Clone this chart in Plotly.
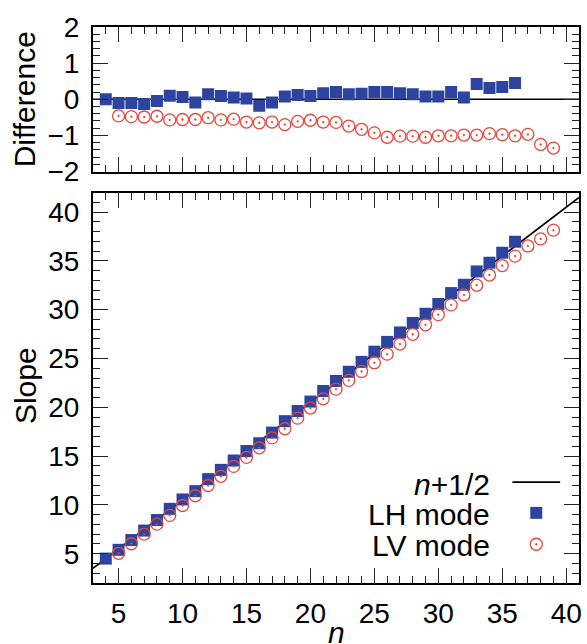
import plotly.graph_objects as go

# ---------------- data ----------------
n_lh = list(range(4, 37))
diff_lh = [0.00, -0.10, -0.10, -0.13, -0.05, 0.10, 0.06, -0.09, 0.14, 0.09,
           0.05, 0.02, -0.18, -0.09, 0.08, 0.12, 0.09, 0.17, 0.20, 0.14,
           0.15, 0.20, 0.20, 0.17, 0.14, 0.08, 0.08, 0.20, 0.05, 0.42,
           0.31, 0.34, 0.45]
slope_lh = [4.50, 5.40, 6.40, 7.37, 8.45, 9.60, 10.56, 11.41, 12.64, 13.59,
            14.55, 15.52, 16.32, 17.41, 18.58, 19.62, 20.59, 21.67, 22.70, 23.64,
            24.65, 25.70, 26.70, 27.67, 28.64, 29.58, 30.58, 31.70, 32.55, 33.92,
            34.81, 35.84, 36.95]

n_lv = list(range(5, 40))
diff_lv = [-0.46, -0.48, -0.49, -0.47, -0.57, -0.56, -0.56, -0.51, -0.57, -0.55,
           -0.63, -0.65, -0.63, -0.70, -0.61, -0.58, -0.63, -0.64, -0.74, -0.83,
           -0.93, -1.05, -1.02, -1.02, -1.05, -1.01, -1.01, -0.99, -0.99, -0.95,
           -0.98, -1.01, -0.97, -1.25, -1.35]
slope_lv = [5.04, 6.02, 7.01, 8.03, 8.93, 9.94, 10.94, 11.99, 12.93, 13.95,
            14.87, 15.85, 16.87, 17.80, 18.89, 19.92, 20.87, 21.86, 22.76, 23.67,
            24.57, 25.45, 26.48, 27.48, 28.45, 29.49, 30.49, 31.51, 32.51, 33.55,
            34.52, 35.49, 36.53, 37.25, 38.15]

ref_n = [3, 41]
ref_slope = [3.5, 41.5]
ref_diff = [0, 0]

x_ticks = [5, 10, 15, 20, 25, 30, 35, 40]
diff_ticks = [-2, -1, 0, 1, 2]
slope_ticks = [5, 10, 15, 20, 25, 30, 35, 40]

legend_labels = ["<i>n</i>+1/2", "LH mode", "LV mode"]

# ---------------- styles ----------------
FONT = "Liberation Sans, Arial, Helvetica, sans-serif"
BLUE = "#2c44a0"
RED = "#e8463c"
TICKFS = 28
LEG_FS = 30
TITLE_FS = 30

W, H = 587, 644
ML, MR, MT, MB = 93, 5, 27, 60.5
PW = W - ML - MR
PH = H - MT - MB

def px_x(p):
    return (p - ML) / PW

def px_y(p):
    return (H - MB - p) / PH

fig = go.Figure()

sq = dict(symbol="square", size=12, color=BLUE, line=dict(width=0))
circ = dict(symbol="circle-open-dot", size=12, color=RED, line=dict(width=1.3, color=RED))

# top: differences
fig.add_trace(go.Scatter(x=ref_n, y=ref_diff, mode="lines", line=dict(color="black", width=1.6),
                         xaxis="x", yaxis="y", showlegend=False, hoverinfo="skip"))
fig.add_trace(go.Scatter(x=n_lh, y=diff_lh, mode="markers", marker=sq, xaxis="x", yaxis="y",
                         showlegend=False))
fig.add_trace(go.Scatter(x=n_lv, y=diff_lv, mode="markers", marker=circ, xaxis="x", yaxis="y",
                         showlegend=False))

# bottom: slopes
fig.add_trace(go.Scatter(x=ref_n, y=ref_slope, mode="lines", line=dict(color="black", width=1.6),
                         xaxis="x2", yaxis="y2", showlegend=False, hoverinfo="skip"))
fig.add_trace(go.Scatter(x=n_lh, y=slope_lh, mode="markers", marker=sq, xaxis="x2", yaxis="y2",
                         showlegend=False))
fig.add_trace(go.Scatter(x=n_lv, y=slope_lv, mode="markers", marker=circ, xaxis="x2", yaxis="y2",
                         showlegend=False))

# custom legend keys (symbols to the right of text) on an invisible full-area axis pair
key_y = [px_y(482.5), px_y(513.3), px_y(544.7)]
key_x = px_x(539)
fig.add_trace(go.Scatter(x=[px_x(515), px_x(563)], y=[key_y[0], key_y[0]], mode="lines",
                         line=dict(color="black", width=1.6), xaxis="x3", yaxis="y3",
                         showlegend=False, hoverinfo="skip", cliponaxis=False))
fig.add_trace(go.Scatter(x=[key_x], y=[key_y[1]], mode="markers", marker=sq,
                         xaxis="x3", yaxis="y3", showlegend=False, hoverinfo="skip", cliponaxis=False))
fig.add_trace(go.Scatter(x=[key_x], y=[key_y[2]], mode="markers", marker=circ,
                         xaxis="x3", yaxis="y3", showlegend=False, hoverinfo="skip", cliponaxis=False))

annotations = []
for lab, yy in zip(legend_labels, [px_y(485), px_y(515), px_y(546)]):
    annotations.append(dict(text=lab, x=px_x(494), y=yy, xref="paper", yref="paper",
                            xanchor="right", yanchor="middle", showarrow=False,
                            font=dict(family=FONT, size=LEG_FS, color="black")))
# y-axis titles
annotations.append(dict(text="Difference", x=px_x(25), y=px_y(99), xref="paper", yref="paper",
                        textangle=-90, xanchor="center", yanchor="middle", showarrow=False,
                        font=dict(family=FONT, size=TITLE_FS, color="black")))
annotations.append(dict(text="Slope", x=px_x(25), y=px_y(386), xref="paper", yref="paper",
                        textangle=-90, xanchor="center", yanchor="middle", showarrow=False,
                        font=dict(family=FONT, size=TITLE_FS, color="black")))
# x-axis title
annotations.append(dict(text="<i>n</i>", x=0.5, y=px_y(633), xref="paper", yref="paper",
                        xanchor="center", yanchor="middle", showarrow=False,
                        font=dict(family=FONT, size=TITLE_FS, color="black")))

axis_common = dict(showline=True, linecolor="black", linewidth=2, mirror="allticks",
                   ticks="inside", ticklen=15, tickwidth=1.3, tickcolor="#222",
                   showgrid=False, zeroline=False,
                   tickfont=dict(family=FONT, size=TICKFS, color="black"))

top_dom = [px_y(171.7), 1.0]
bot_dom = [0.0, px_y(192.7)]

fig.update_layout(
    width=W, height=H,
    margin=dict(l=ML, r=MR, t=MT, b=MB, pad=0),
    paper_bgcolor="white", plot_bgcolor="rgba(0,0,0,0)",
    font=dict(family=FONT, color="black"),
    showlegend=False,
    annotations=annotations,
    xaxis=dict(domain=[0, 1], anchor="y", range=[3, 41], tickvals=x_ticks,
               showticklabels=False,
               minor=dict(ticks="inside", ticklen=7, dtick=1, tick0=0, tickwidth=1.3, tickcolor="#222"),
               **axis_common),
    yaxis=dict(domain=top_dom, anchor="x", range=[-2, 2], tickvals=diff_ticks,
               ticklabelstandoff=6,
               minor=dict(ticks="inside", ticklen=7, dtick=0.2, tick0=0, tickwidth=1.3, tickcolor="#222"),
               **axis_common),
    xaxis2=dict(domain=[0, 1], anchor="y2", range=[3, 41], tickvals=x_ticks,
                ticklabelstandoff=4,
                minor=dict(ticks="inside", ticklen=7, dtick=1, tick0=0, tickwidth=1.3, tickcolor="#222"),
                **axis_common),
    yaxis2=dict(domain=bot_dom, anchor="x2", range=[2, 42], tickvals=slope_ticks,
                ticklabelstandoff=6,
                minor=dict(ticks="inside", ticklen=7, dtick=1, tick0=0, tickwidth=1.3, tickcolor="#222"),
                **axis_common),
    xaxis3=dict(domain=[0, 1], anchor="y3", range=[0, 1], visible=False, fixedrange=True),
    yaxis3=dict(domain=[0, 1], anchor="x3", range=[0, 1], visible=False, fixedrange=True),
)

fig.write_html("out.html")
